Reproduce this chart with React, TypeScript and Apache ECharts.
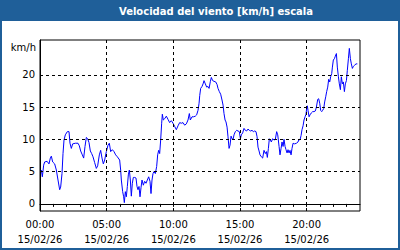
import React, { useEffect, useRef } from "react";
import * as echarts from "echarts";

const TITLE = "Velocidad del viento [km/h] escala";
const UNIT = "km/h";
const DATE_LABEL = "15/02/26";
const Y_LABELS = [0, 5, 10, 15, 20];
const X_LABEL_HOURS = [0, 5, 10, 15, 20];

const hours = [
  0.1, 0.175, 0.275, 0.35, 0.53, 0.675, 0.775, 0.85, 0.95, 1.1, 1.225, 1.35, 1.475, 1.55, 1.65, 1.725, 1.8, 1.9,
  2.05, 2.175, 2.25, 2.35, 2.45, 2.65, 2.85, 2.95, 3.05, 3.175, 3.275, 3.375, 3.475, 3.575, 3.675, 3.775, 3.875,
  3.975, 4.1, 4.225, 4.325, 4.45, 4.55, 4.65, 4.75, 4.85, 4.975, 5.1, 5.2, 5.3, 5.425, 5.55, 5.675, 5.8,
  5.975, 6.05, 6.1, 6.2, 6.275, 6.325, 6.4, 6.475, 6.55, 6.625, 6.7, 6.775, 6.85, 6.925, 7.0, 7.1, 7.2, 7.275,
  7.35, 7.425, 7.5, 7.575, 7.65, 7.75, 7.85, 7.95, 8.05, 8.15, 8.25, 8.325, 8.4, 8.475, 8.55, 8.65, 8.75, 8.825,
  8.9, 8.975, 9.05, 9.125, 9.175, 9.25, 9.35, 9.475, 9.6, 9.725, 9.85, 9.975, 10.1, 10.225, 10.35, 10.475, 10.6,
  10.725, 10.85, 10.975, 11.1, 11.2, 11.275, 11.4, 11.525, 11.65, 11.75, 11.85, 11.93, 11.98,
  12.05, 12.15, 12.23, 12.3, 12.4, 12.5, 12.6, 12.68, 12.78, 12.85, 12.95, 13.05, 13.18, 13.28, 13.35, 13.45,
  13.55, 13.65, 13.73, 13.8, 13.88, 13.95, 14.03, 14.1, 14.18, 14.25, 14.33, 14.4, 14.48, 14.55, 14.65, 14.75,
  14.85, 14.95, 15.03, 15.1, 15.2, 15.3, 15.4, 15.5, 15.6, 15.7, 15.8, 15.9, 16.0, 16.1, 16.2, 16.28, 16.35,
  16.43, 16.5, 16.6, 16.7, 16.8, 16.9, 16.98, 17.05, 17.13, 17.2, 17.28, 17.35, 17.45, 17.55, 17.65, 17.75, 17.83,
  17.93, 18.0, 18.08, 18.15, 18.23, 18.3, 18.38, 18.45, 18.53, 18.6, 18.68, 18.75, 18.83, 18.9, 18.98, 19.1,
  19.23, 19.35, 19.43, 19.5, 19.58, 19.65, 19.73, 19.8, 19.88, 19.95, 20.0, 20.05, 20.1, 20.18, 20.25, 20.35,
  20.45, 20.55, 20.65, 20.73, 20.83, 20.9, 20.98, 21.05, 21.13, 21.2, 21.28, 21.35, 21.43, 21.5, 21.58, 21.65,
  21.73, 21.8, 21.88, 21.93, 22.0, 22.08, 22.15, 22.23, 22.3, 22.38, 22.45, 22.53, 22.6, 22.68, 22.75, 22.83,
  22.9, 22.98, 23.05, 23.13, 23.2, 23.28, 23.35, 23.43, 23.5, 23.6, 23.7, 23.8,
];

const speeds = [
  5.25, 4.2, 6.0, 6.5, 6.6, 6.2, 7.1, 7.4, 6.5, 6.2, 5.25, 3.7, 2.2, 2.6, 4.7, 7.8, 9.9, 10.7,
  11.2, 11.2, 9.4, 8.6, 9.3, 9.4, 9.4, 9.0, 8.2, 7.6, 7.1, 8.9, 10.3, 10.1, 9.5, 8.2, 7.8,
  7.3, 6.4, 5.5, 5.9, 7.6, 8.3, 7.1, 6.2, 6.8, 8.1, 9.1, 9.4, 8.1, 8.4, 8.1, 7.6, 7.3,
  6.8, 5.25, 3.7, 1.9, 1.1, 0.2, 1.9, 1.1, 2.7, 4.5, 5.25, 3.7, 1.2, 3.2, 4.1, 4.1, 4.0, 2.7,
  2.2, 2.7, 1.1, 2.5, 3.7, 2.9, 3.5, 3.2, 3.7, 4.2, 3.5, 1.6, 3.7, 4.7, 5.0, 4.7, 5.8, 7.6,
  8.3, 7.8, 9.9, 12.5, 13.9, 13.0, 13.2, 13.6, 13.1, 12.6, 12.9, 12.5, 12.0, 11.5, 12.1, 12.6, 12.5,
  12.6, 12.2, 12.4, 13.0, 14.0, 13.0, 13.5, 13.5, 13.6, 13.8, 14.5, 15.6, 16.8,
  17.9, 18.2, 18.6, 19.1, 18.6, 18.1, 18.2, 17.9, 19.0, 19.6, 19.1, 19.0, 18.9, 18.5, 17.9, 17.4,
  17.0, 16.1, 15.3, 14.0, 13.0, 12.7, 11.9, 10.4, 8.6, 9.1, 10.5, 10.1, 10.0, 10.7, 11.2, 11.4,
  11.3, 11.2, 10.1, 10.7, 11.0, 11.7, 11.4, 11.3, 11.6, 11.4, 11.3, 11.4, 11.2, 11.3, 11.2, 10.4, 8.8,
  8.2, 7.6, 7.3, 7.1, 8.3, 7.8, 8.1, 7.2, 8.6, 10.1, 9.9, 9.6, 10.1, 9.9, 10.0, 11.2, 10.7,
  8.9, 7.6, 8.6, 9.6, 8.9, 10.0, 8.9, 8.4, 7.9, 8.4, 7.9, 8.3, 7.6, 8.6, 9.4, 9.3,
  9.4, 9.6, 10.0, 9.9, 10.6, 11.5, 12.1, 13.0, 13.5, 13.9, 14.8, 15.2, 14.5, 13.5, 13.8, 14.1,
  14.3, 14.3, 14.4, 15.0, 16.2, 16.3, 15.6, 14.5, 14.3, 14.5, 14.8, 15.8, 16.6, 17.4, 18.1, 19.3,
  18.9, 19.7, 20.2, 21.2, 22.3, 22.5, 22.9, 23.3, 21.2, 19.7, 18.6, 17.7, 19.7, 18.6, 18.9, 17.4,
  18.6, 19.1, 20.7, 22.5, 24.1, 22.5, 21.7, 21.0, 21.3, 21.5, 21.7, 21.7,
];

const FRAME_BLUE = "#1f5f99";
const FONT = "DejaVu Sans";

export default function App() {
  const ref = useRef<HTMLDivElement>(null);

  useEffect(() => {
    if (!ref.current) return;
    const chart = echarts.init(ref.current, undefined, { renderer: "svg" });
    const pad = (n: number) => (n < 10 ? "0" + n : "" + n);
    const data = hours.map((h, i) => [h, speeds[i]]);
    const dash = { color: "#000", width: 1, type: [3, 3] as any };
    const gridMarks = [
      ...Y_LABELS.map((v) => ({ yAxis: v })),
      ...X_LABEL_HOURS.filter((h) => h > 0).map((h) => ({ xAxis: h })),
    ];

    chart.setOption({
      animation: false,
      backgroundColor: "#fff",
      textStyle: { fontFamily: FONT },
      grid: {
        left: 40,
        right: 40,
        top: 40,
        bottom: 39,
        show: true,
        borderColor: "#000",
        borderWidth: 1,
        backgroundColor: "transparent",
      },
      xAxis: {
        type: "value",
        min: 0,
        max: 24,
        interval: 1,
        axisLine: { show: true, lineStyle: { color: "#000", width: 1 } },
        axisTick: { show: true, length: 3, lineStyle: { color: "#000" } },
        splitLine: { show: false },
        axisLabel: {
          color: "#000",
          fontFamily: FONT,
          fontSize: 10,
          lineHeight: 15,
          margin: 6,
          showMaxLabel: false,
          formatter: (v: number) =>
            X_LABEL_HOURS.indexOf(v) >= 0 ? pad(v) + ":00\n" + DATE_LABEL : "",
        },
      },
      yAxis: {
        type: "value",
        min: -1.1,
        max: 25.4,
        axisLine: { show: true, lineStyle: { color: "#000", width: 1 } },
        axisTick: { show: false },
        splitLine: { show: false },
        axisLabel: {
          color: "#000",
          fontFamily: FONT,
          fontSize: 10,
          margin: 5,
          customValues: Y_LABELS,
        },
      },
      graphic: [
        {
          type: "rect",
          shape: { x: 1, y: 1, width: 398, height: 248 },
          style: { fill: "none", stroke: FRAME_BLUE, lineWidth: 2 },
          silent: true,
        },
        {
          type: "rect",
          shape: { x: 0, y: 0, width: 400, height: 21 },
          style: { fill: FRAME_BLUE },
          silent: true,
        },
        {
          type: "text",
          x: 216,
          y: 11,
          style: {
            text: TITLE,
            fill: "#fff",
            font: "bold 10px 'DejaVu Sans'",
            align: "center",
            verticalAlign: "middle",
          },
          silent: true,
        },
        {
          type: "text",
          x: 36,
          y: 47,
          style: {
            text: UNIT,
            fill: "#000",
            font: "10px 'DejaVu Sans'",
            align: "right",
            verticalAlign: "middle",
          },
          silent: true,
        },
      ],
      series: [
        {
          type: "line",
          data: [],
          z: 1,
          silent: true,
          markLine: {
            silent: true,
            symbol: "none",
            label: { show: false },
            lineStyle: dash,
            data: gridMarks,
          },
        },
        {
          type: "line",
          data,
          z: 3,
          showSymbol: false,
          symbol: "none",
          lineStyle: { color: "#0000ff", width: 1 },
        },
      ],
    });

    return () => chart.dispose();
  }, []);

  return (
    <div
      ref={ref}
      style={{ position: "fixed", left: 0, top: 0, width: 400, height: 250 }}
    />
  );
}
